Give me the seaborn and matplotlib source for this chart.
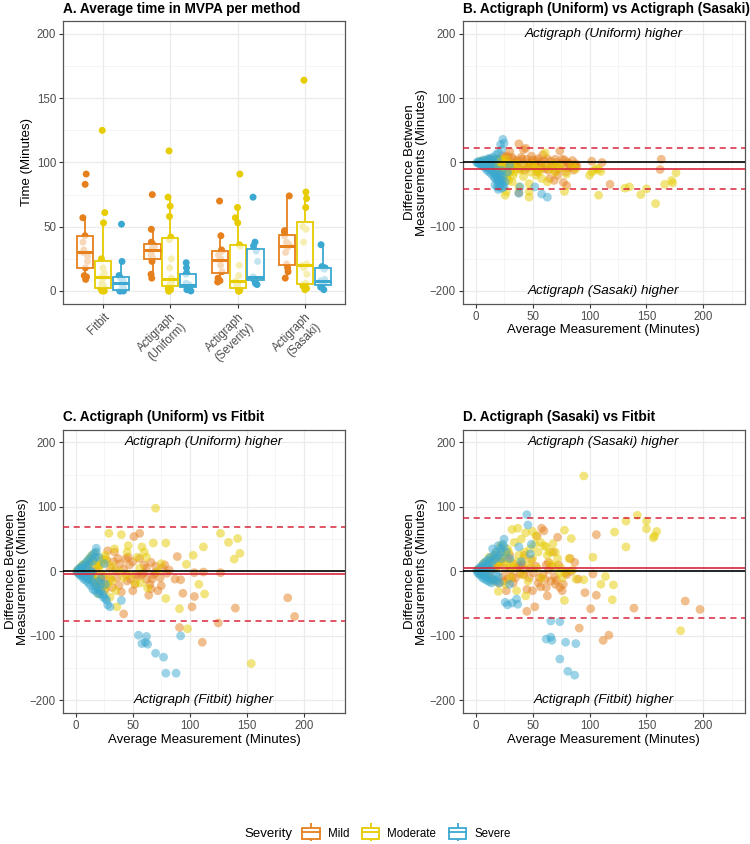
import numpy as np
import pandas as pd
import matplotlib
matplotlib.use("Agg")
import matplotlib.pyplot as plt
import seaborn as sns
from matplotlib.ticker import MultipleLocator
from matplotlib.lines import Line2D
from matplotlib.patches import Patch
from matplotlib.legend_handler import HandlerTuple

methods = ["Fitbit", "Actigraph\n(Uniform)", "Actigraph\n(Severity)", "Actigraph\n(Sasaki)"]
severities = ["Mild", "Moderate", "Severe"]
colors = {"Mild": "#E5801C", "Moderate": "#E6CC00", "Severe": "#3AA8D0"}

# panel A: average minutes in MVPA per participant
fitbit_mild = [9, 11, 12, 18, 23, 27, 30, 32, 38, 43, 57, 83, 91]
fitbit_mod = [0, 0, 1, 2, 4, 6, 10, 11, 14, 18, 25, 53, 61, 125]
fitbit_sev = [0, 0, 0, 2, 5, 6, 8, 10, 12, 23, 52]
uniform_mild = [10, 13, 23, 26, 28, 31, 33, 35, 36, 38, 48, 75]
uniform_mod = [0, 0, 1, 2, 3, 5, 6, 7, 8, 10, 18, 25, 40, 42, 58, 66, 73, 109]
uniform_sev = [0, 1, 2, 3, 4, 4, 5, 6, 13, 14, 18, 22]
severity_mild = [7, 8, 10, 15, 20, 24, 25, 28, 31, 32, 43, 70]
severity_mod = [0, 0, 0, 1, 2, 4, 6, 7, 8, 12, 20, 35, 36, 53, 57, 65, 91]
severity_sev = [5, 6, 8, 9, 10, 11, 23, 31, 35, 38, 73]
sasaki_mild = [10, 15, 18, 21, 30, 34, 36, 38, 43, 46, 47, 74]
sasaki_mod = [1, 2, 4, 5, 6, 13, 18, 20, 21, 38, 48, 50, 65, 72, 77, 164]
sasaki_sev = [1, 3, 4, 5, 7, 8, 9, 17, 18, 19, 36]

# panel B: Uniform vs Sasaki (average, difference)
b_mild = [(38, 29), (44, 22), (42, 20), (30, 17), (28, 10), (33, 5), (35, 0), (36, -5), (40, 8), (45, 5),
          (47, 0), (48, -3), (50, 4), (52, -2), (55, 6), (57, 0), (58, -8), (60, 3), (62, -5), (64, -12),
          (66, 2), (68, -3), (70, 5), (72, -20), (74, 18), (75, -2), (77, -31), (78, 4), (80, -36), (80, -8),
          (82, -2), (84, -8), (86, -12), (87, -5), (88, -2), (38, -47), (102, 2), (111, 0), (118, -34),
          (163, 5), (162, -11), (20, 5), (15, 3), (25, -5), (26, 8), (31, -12), (54, -15), (65, -25),
          (70, -14), (69, -28), (46, -8), (59, 12), (42, -2),
          (10, 0), (12, 5), (17, -2), (22, 3), (24, 10), (27, -8), (29, 2), (32, 8), (34, -3), (37, 3),
          (39, -10), (41, 5), (43, -12), (49, 10), (51, -6), (53, 3), (56, -4), (61, -10), (63, 6),
          (67, -7), (71, 0), (73, -10), (76, 5), (79, -15), (81, 0), (85, 3), (89, -6)]
b_mod = [(3, 1), (5, -2), (8, 3), (10, -5), (12, 2), (15, -8), (18, -3), (20, 6), (22, -12), (24, -18),
         (26, -51), (27, -45), (28, -25), (30, -8), (32, -30), (34, -15), (36, -2), (40, -12), (44, -5),
         (47, -54), (47, -45), (47, -33), (48, -15), (50, -3), (52, -8), (55, -12), (56, -15), (58, -25),
         (60, -5), (61, 15), (63, -30), (65, -10), (68, -3), (70, -15), (72, -5), (75, -8), (78, -45),
         (80, -18), (85, -5), (88, -10), (100, -20), (102, -15), (104, -12), (106, -9), (108, -11),
         (110, -14), (108, -51), (131, -40), (135, -38), (145, -50), (150, -41), (158, -64), (166, -34),
         (172, -28), (173, -32), (176, -16), (29, -28), (38, -38), (42, -22), (53, -20),
         (5, 2), (7, -1), (9, -6), (11, -4), (13, -8), (14, -2), (16, -12), (17, 5), (19, -15), (20, -8),
         (21, -5), (22, -25), (23, 4), (24, -10), (25, 0), (26, -20), (27, 5), (28, -4), (30, -15),
         (32, -3), (33, -20), (35, -10)]
b_sev = [(1, 0), (2, -1), (3, 2), (4, -3), (5, 1), (6, -5), (7, 4), (8, -8), (9, 2), (10, -12), (11, 6),
         (12, -15), (13, -3), (14, -18), (15, 8), (16, -22), (17, -25), (18, -10), (19, -28), (20, -32),
         (21, -38), (22, 28), (23, -40), (24, 36), (25, 30), (22, -20), (20, 15), (18, 12), (24, -35),
         (26, -30), (16, -8), (14, 4), (12, -6), (38, -48), (39, -38), (52, -38), (58, -49), (63, -54),
         (28, -15), (30, -5), (20, -42), (23, 20),
         (3, -1), (5, -3), (6, 2), (8, -4), (10, -8), (12, -10), (14, -12), (16, -15), (18, -20),
         (19, -22), (20, -25), (21, -30), (22, -33), (23, -28), (24, -22), (25, -38), (17, -35),
         (19, -38), (21, -18), (23, -12), (10, 3), (13, 6), (16, 2), (19, 5)]

# panel C: Uniform vs Fitbit
c_mild = [(2, 1), (5, 3), (8, -5), (10, 8), (14, -10), (18, -20), (20, -15), (22, -10), (25, -20), (26, -28),
          (30, 5), (34, 30), (35, 2), (38, -22), (40, -32), (42, -66), (44, 20), (45, -15), (47, 10),
          (50, -30), (50, 15), (52, -20), (51, 54), (56, 59), (58, -5), (60, 10), (62, -12), (64, -37),
          (66, -27), (66, 14), (67, -12), (72, -30), (75, -22), (78, 10), (82, 2), (87, -12), (89, 23),
          (91, -87), (92, -13), (94, -34), (102, -55), (104, -2), (104, -39), (111, -110), (112, -1),
          (125, -80), (127, -2), (140, -57), (186, -41), (192, -70), (28, 32), (36, -10), (55, -8), (70, -2),
          (12, 4), (15, -4), (18, 2), (20, 10), (24, -8), (27, 18), (30, -12), (32, -25), (33, 15), (37, 20),
          (39, 12), (42, 3), (44, -5), (46, 22), (48, -12), (53, -5), (56, 20), (60, -2), (62, 5),
          (65, -20), (68, -5), (70, 8), (74, -10), (76, 5), (80, -3)]
c_mod = [(1, 1), (3, -2), (4, 6), (6, 10), (8, -4), (10, 15), (12, 20), (14, 25), (15, -12), (17, 28),
         (19, -18), (20, -35), (22, 10), (24, -5), (25, -22), (27, 15), (29, 59), (30, -40), (32, -15),
         (34, 35), (36, -55), (38, 0), (40, 57), (42, -10), (45, 30), (48, -5), (52, -18), (54, 22),
         (57, -18), (58, 38), (60, 30), (62, 22), (63, -26), (68, 44), (70, 98), (72, 0), (75, 12), (79, 44),
         (79, -42), (91, -58), (97, 11), (98, -89), (103, 25), (108, -20), (112, 38), (113, -35), (127, 59),
         (134, 45), (139, 19), (142, 51), (144, 28), (154, -143), (46, 40), (35, -30), (56, 5),
         (5, 5), (7, 10), (9, 12), (11, 8), (13, 18), (15, 20), (16, 15), (18, 10), (20, 5), (22, 18),
         (24, 20), (26, 25), (12, -5), (14, -8), (16, -15), (18, -22), (20, -10), (22, -25), (25, -30),
         (28, -20), (30, -8), (32, 8), (3, 0), (6, -3), (9, -2), (10, 2)]
c_sev = [(1, -1), (2, 3), (3, -5), (4, 6), (5, -8), (6, 9), (7, -12), (8, 12), (9, -14), (10, 16), (11, -18),
         (12, 20), (13, -22), (14, 24), (15, -28), (16, 28), (17, -30), (18, 36), (18, 30), (19, -34),
         (20, 22), (21, -35), (22, -10), (24, -40), (25, 12), (27, -45), (28, -52), (30, -55), (40, -45),
         (5, 2), (8, -2), (10, 4), (12, -6), (55, -99), (58, -112), (61, -110), (62, -101), (63, -113),
         (70, -127), (77, -133), (79, -158), (88, -158), (92, -100), (26, -20), (14, 0),
         (2, -2), (4, -4), (6, -6), (8, -8), (10, -10), (12, -12), (14, -14), (16, -18), (18, -24),
         (20, -28), (22, -30), (24, -36), (26, -42), (3, 3), (6, 5), (9, 8), (12, 12), (15, 16), (17, 22),
         (14, -2), (20, -16), (22, -20)]

# panel D: Sasaki vs Fitbit
d_mild = [(3, 2), (6, -4), (10, 8), (14, -12), (18, 5), (20, -18), (22, 15), (25, -15), (28, 20), (30, 25),
          (32, -8), (35, -10), (38, 8), (40, 10), (42, -5), (45, -28), (45, -62), (48, 5), (50, -30),
          (52, -55), (54, 55), (56, -10), (57, -24), (58, 67), (60, 63), (62, 10), (63, -38), (64, 2),
          (66, -15), (68, 30), (70, -20), (72, 53), (74, -25), (77, -20), (80, -5), (83, 20), (87, 14),
          (90, -12), (91, -88), (96, -33), (101, -58), (103, -4), (106, 57), (106, -37), (112, -107),
          (117, -99), (139, -57), (184, -46), (197, -59), (27, -30), (33, 12), (43, 25),
          (8, 0), (12, -5), (16, 4), (20, 10), (24, -8), (26, 5), (28, -12), (30, 0), (33, -18), (36, 5),
          (39, -3), (41, 12), (44, 2), (47, -10), (49, 18), (51, -2), (53, 8), (55, -18), (59, -5),
          (61, -12), (64, 14), (67, 8), (69, -8), (71, -14), (73, 10), (76, -30), (79, -2), (84, 0), (62, -25)]
d_mod = [(2, 3), (4, -3), (6, 10), (8, 14), (10, -6), (12, 22), (14, 18), (16, -15), (18, 28), (20, -31),
         (22, 40), (24, 30), (26, -20), (28, 35), (30, 10), (32, 65), (34, 45), (36, -30), (37, 67),
         (40, 50), (42, 20), (44, 60), (44, -38), (46, -15), (48, 35), (50, 62), (52, 42), (53, 55),
         (55, 30), (58, -10), (60, 40), (63, 25), (65, 30), (68, 43), (70, 8), (72, 20), (75, 5), (78, 64),
         (78, -45), (82, 20), (84, 51), (88, -12), (95, -13), (95, 148), (103, 22), (110, -20), (114, -8),
         (120, -44), (121, -21), (122, 61), (132, 78), (132, 38), (142, 87), (150, 78), (150, 66),
         (156, 52), (157, 55), (159, 62), (180, -92),
         (3, 0), (5, 3), (7, 6), (9, 10), (11, 12), (13, 16), (15, 20), (17, 24), (19, 8), (21, 15),
         (23, 18), (25, 25), (27, 12), (29, 30), (31, -10), (33, 5), (35, 15), (38, 25), (41, -5),
         (43, 30), (47, 10), (50, 20), (54, 5), (57, 45), (62, 38), (66, 12), (70, 30), (74, -2),
         (76, -10), (80, 0), (85, 2)]
d_sev = [(1, 1), (2, -3), (3, 5), (4, -6), (5, 8), (6, -10), (7, 12), (8, -12), (9, 15), (10, -14),
         (11, 18), (12, -16), (13, 22), (14, -18), (15, 35), (16, 25), (18, 30), (20, 40), (22, 36),
         (25, 50), (25, 38), (26, -48), (28, -52), (30, 20), (32, -49), (36, -43), (37, -51), (38, 38),
         (40, 15), (45, 88), (46, 72), (49, 42), (48, 27), (8, -5), (12, 4), (66, -77), (74, -78),
         (62, -105), (66, -102), (67, -107), (79, -110), (88, -112), (74, -136), (81, -155), (87, -161),
         (30, -20), (20, -8),
         (2, 2), (3, -2), (4, 4), (5, -5), (6, 6), (7, -6), (8, 8), (9, -8), (10, 10), (11, -9), (12, 12),
         (13, -10), (14, 14), (15, -12), (16, 18), (17, -14), (18, 20), (19, -15), (20, 25), (21, -18),
         (22, 30), (10, 0), (14, 2), (18, -4), (24, 42), (23, 20), (27, 30)]

# bias and limits of agreement
b_bias, b_upper, b_lower = -10, 22.7, -41
c_bias, c_upper, c_lower = -4, 69, -77
d_bias, d_upper, d_lower = 4.6, 83, -72.7

plt.rcParams["font.family"] = ["Liberation Sans", "DejaVu Sans"]
plt.rcParams["axes.unicode_minus"] = True

fig = plt.figure(figsize=(7.5, 8.44), dpi=100)
fig.patch.set_facecolor("white")


def style_axes(ax, yminor, xminor=True):
    ax.set_facecolor("white")
    for s in ax.spines.values():
        s.set_color("#555555")
        s.set_linewidth(0.9)
    ax.yaxis.set_minor_locator(MultipleLocator(yminor))
    if xminor:
        ax.xaxis.set_minor_locator(MultipleLocator(25))
    ax.grid(which="major", color="#EBEBEB", lw=0.9)
    ax.grid(which="minor", color="#F2F2F2", lw=0.5)
    ax.tick_params(which="major", length=3, color="#333333", width=0.8, labelsize=8.3,
                   labelcolor="#4D4D4D", pad=2)
    ax.tick_params(which="minor", length=0)
    ax.set_axisbelow(True)


# ---- Panel A
rows = []
for method, groups in zip(methods, [(fitbit_mild, fitbit_mod, fitbit_sev),
                                    (uniform_mild, uniform_mod, uniform_sev),
                                    (severity_mild, severity_mod, severity_sev),
                                    (sasaki_mild, sasaki_mod, sasaki_sev)]):
    for sev, vals in zip(severities, groups):
        for v in vals:
            rows.append({"method": method, "severity": sev, "time": v})
dfa = pd.DataFrame(rows)

np.random.seed(3)
ax_a = fig.add_axes([0.084, 0.640, 0.376, 0.335])
sns.stripplot(data=dfa, x="method", y="time", hue="severity", order=methods, hue_order=severities,
              palette=colors, dodge=True, jitter=0.12, size=5, linewidth=0, zorder=1, legend=False, ax=ax_a)
sns.boxplot(data=dfa, x="method", y="time", hue="severity", order=methods, hue_order=severities,
            palette=colors, saturation=1, dodge=True, width=0.8, gap=0.1, showfliers=False, showcaps=False,
            linewidth=1.3, medianprops=dict(linewidth=2.2), legend=False, ax=ax_a)
boxes = list(ax_a.patches)
for line in ax_a.lines:
    xd = np.asarray(line.get_xdata(), float)
    if xd.size == 0:
        continue
    xm = xd.mean()
    for p in boxes:
        ext = p.get_path().get_extents()
        if ext.x0 - 1e-6 <= xm <= ext.x1 + 1e-6:
            line.set_color(p.get_facecolor()[:3])
            break
for p in boxes:
    fc = p.get_facecolor()
    p.set_edgecolor(fc[:3])
    p.set_facecolor((1, 1, 1, 0.7))
    p.set_zorder(2)

ax_a.set_ylim(-10, 210)
ax_a.set_xlim(-0.6, 3.6)
ax_a.set_yticks([0, 50, 100, 150, 200])
style_axes(ax_a, 25, xminor=False)
ax_a.set_xlabel("")
ax_a.set_ylabel("Time (Minutes)", fontsize=9.5, labelpad=3)
plt.setp(ax_a.get_xticklabels(), rotation=45, ha="right", rotation_mode="anchor", fontsize=8.3)
ax_a.set_title("A. Average time in MVPA per method", loc="left", fontsize=9.8, fontweight="bold", pad=6)


# ---- Bland-Altman panels
def ba_panel(rect, mild, mod, sev, bias, upper, lower, title, top_txt, bottom_txt):
    recs = []
    for sev_name, pts in zip(severities, [mild, mod, sev]):
        for x, y in pts:
            recs.append({"avg": x, "diff": y, "severity": sev_name})
    df = pd.DataFrame(recs)
    ax = fig.add_axes(rect)
    sns.scatterplot(data=df, x="avg", y="diff", hue="severity", hue_order=severities, palette=colors,
                    s=40, alpha=0.5, linewidth=0, legend=False, ax=ax, zorder=2)
    ax.axhline(0, color="black", lw=1.2, zorder=3)
    ax.axhline(bias, color="#D7263D", lw=1.2, zorder=3)
    ax.axhline(upper, color="#D7263D", lw=1.1, ls=(0, (4, 3)), zorder=3)
    ax.axhline(lower, color="#D7263D", lw=1.1, ls=(0, (4, 3)), zorder=3)
    ax.set_xlim(-11.25, 236.25)
    ax.set_ylim(-220, 220)
    ax.set_xticks([0, 50, 100, 150, 200])
    ax.set_yticks([-200, -100, 0, 100, 200])
    style_axes(ax, 50)
    ax.text(112.5, 200, top_txt, ha="center", va="center", style="italic", fontsize=9.7)
    ax.text(112.5, -200, bottom_txt, ha="center", va="center", style="italic", fontsize=9.7)
    ax.set_xlabel("Average Measurement (Minutes)", fontsize=9.5, labelpad=1)
    ax.set_ylabel("Difference Between\nMeasurements (Minutes)", fontsize=9.5, labelpad=1, linespacing=1.0)
    ax.set_title(title, loc="left", fontsize=9.8, fontweight="bold", pad=6)
    return ax


ba_panel([0.617, 0.640, 0.376, 0.335], b_mild, b_mod, b_sev, b_bias, b_upper, b_lower,
         "B. Actigraph (Uniform) vs Actigraph (Sasaki)", "Actigraph (Uniform) higher", "Actigraph (Sasaki) higher")
ba_panel([0.084, 0.155, 0.376, 0.336], c_mild, c_mod, c_sev, c_bias, c_upper, c_lower,
         "C. Actigraph (Uniform) vs Fitbit", "Actigraph (Uniform) higher", "Actigraph (Fitbit) higher")
ba_panel([0.617, 0.155, 0.376, 0.336], d_mild, d_mod, d_sev, d_bias, d_upper, d_lower,
         "D. Actigraph (Sasaki) vs Fitbit", "Actigraph (Sasaki) higher", "Actigraph (Fitbit) higher")

# ---- legend
handles = []
for sev in severities:
    c = colors[sev]
    handles.append((Line2D([], [], color=c, marker="|", markersize=13, mew=1.3, linestyle="none"),
                    Patch(facecolor="white", edgecolor=c, linewidth=1.3),
                    Line2D([], [], color=c, lw=1.3)))
fig.text(0.326, 0.012, "Severity", fontsize=9.5, va="center", ha="left")
fig.legend(handles, severities, handler_map={tuple: HandlerTuple(ndivide=1)}, loc="center",
           bbox_to_anchor=(0.542, 0.012), ncol=3, frameon=False, fontsize=8.3, numpoints=1,
           handlelength=1.5, handleheight=1.1, columnspacing=1.1, handletextpad=0.7)

fig.savefig("out.png", dpi=100, facecolor="white")
